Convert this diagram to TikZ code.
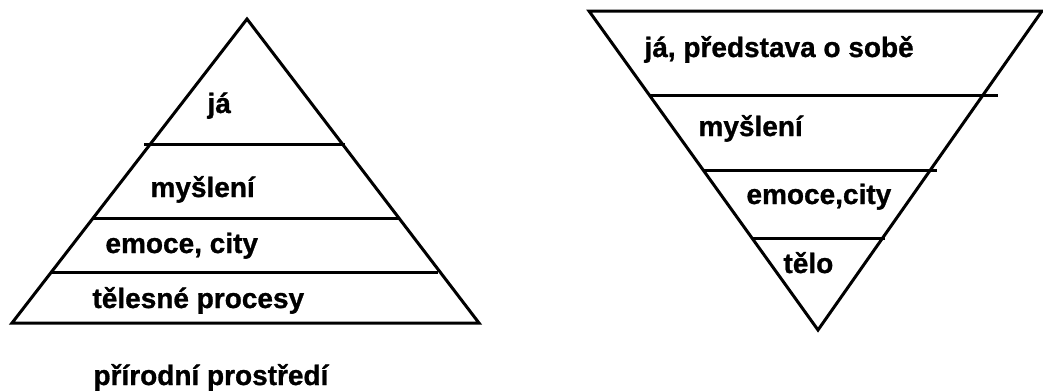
\documentclass[tikz,border=0pt]{standalone}
\usepackage{fontspec}
\setmainfont{Liberation Sans}[BoldFeatures={FakeBold=1}]
\usepackage{tikz}

\begin{document}
\begin{tikzpicture}[x=1pt, y=-1pt, line width=3pt,
  lbl/.style={anchor=base west, inner sep=0pt, font=\bfseries\fontsize{28}{32}\selectfont}]

\useasboundingbox (0,0) rectangle (1043,391);

% pyramid
\coordinate (top) at (247,19);
\coordinate (bl) at (12,323);
\coordinate (br) at (479,323);
\draw (top) -- (br) -- (bl) -- cycle;
\draw (144,144) -- (345,144);
\draw (93,218) -- (400,218);
\draw (52,272) -- (438,272);

\node[lbl] (ja) at (206,113) {já};
\node[lbl] (mysleni) at (149,197) {myšlení};
\node[lbl] (emoce) at (104,253) {emoce, city};
\node[lbl] (telo) at (91,308) {tělesné procesy};
\node[lbl] (prostredi) at (92,385) {přírodní prostředí};

% inverted pyramid
\coordinate (tl2) at (589,11);
\coordinate (tr2) at (1042,11);
\coordinate (bot2) at (818,330);
\draw (tl2) -- (tr2) -- (bot2) -- cycle;
\draw (650,95) -- (998,95);
\draw (703,170) -- (937,170);
\draw (752,238) -- (885,238);

\node[lbl] (ja2) at (643,57) {já, představa o sobě};
\node[lbl] (mysleni2) at (697,136) {myšlení};
\node[lbl] (emoce2) at (745,204) {emoce,city};
\node[lbl] (telo2) at (782,273) {tělo};

\end{tikzpicture}
\end{document}
